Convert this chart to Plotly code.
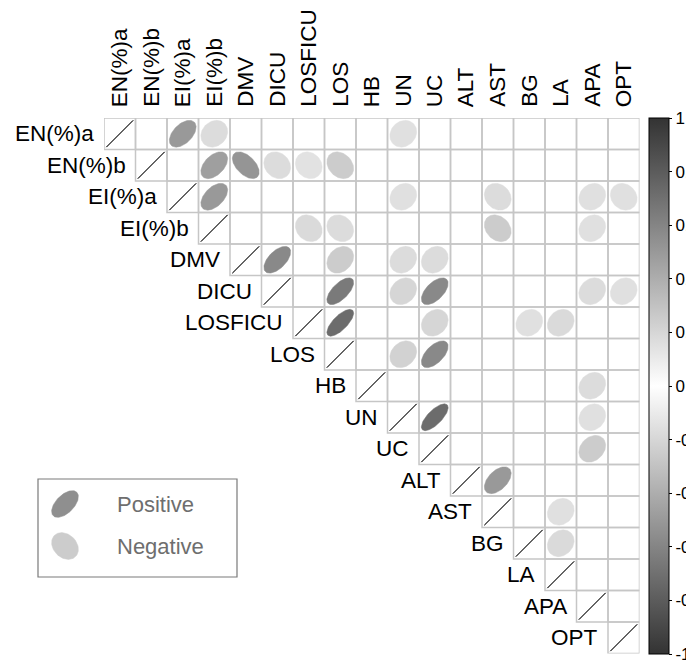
import numpy as np
import plotly.graph_objects as go

# ---------------- data ----------------
labels = ["EN(%)a", "EN(%)b", "EI(%)a", "EI(%)b", "DMV", "DICU", "LOSFICU", "LOS",
          "HB", "UN", "UC", "ALT", "AST", "BG", "LA", "APA", "OPT"]

# significant correlations in the upper triangle (row index, column index, r)
pair_row = [0, 0, 0,
            1, 1, 1, 1, 1,
            2, 2, 2, 2, 2,
            3, 3, 3, 3,
            4, 4, 4, 4,
            5, 5, 5, 5, 5,
            6, 6, 6, 6,
            7, 7,
            8,
            9, 9,
            10,
            11,
            12,
            13]
pair_col = [2, 3, 9,
            3, 4, 5, 6, 7,
            3, 9, 12, 15, 16,
            6, 7, 12, 15,
            5, 7, 9, 10,
            7, 9, 10, 15, 16,
            7, 10, 13, 14,
            9, 10,
            15,
            10, 15,
            15,
            12,
            14,
            14]
pair_r = [0.50, 0.17, 0.15,
          0.47, -0.52, -0.17, -0.14, -0.25,
          0.50, 0.15, -0.17, 0.15, -0.15,
          -0.18, -0.17, -0.25, 0.15,
          0.58, 0.25, 0.17, 0.17,
          0.65, 0.20, 0.58, 0.17, 0.15,
          0.72, 0.20, 0.15, 0.18,
          0.22, 0.58,
          0.17,
          0.72, 0.15,
          0.25,
          0.50,
          0.15,
          0.18]

colorbar_ticks = [1.0, 0.8, 0.6, 0.4, 0.2, 0.0, -0.2, -0.4, -0.6, -0.8, -1.0]
colorbar_ticktext = ["1", "0.8", "0.6", "0.4", "0.2", "0", "-0.2", "-0.4", "-0.6", "-0.8", "-1"]

legend_labels = ["Positive", "Negative"]
legend_r = [0.55, -0.25]

# ---------------- style / layout constants ----------------
W, H = 694, 661
OFF = 8            # page body margin: the figure is drawn 8 px in from the window corner
N = len(labels)
GRID_LEFT, GRID_TOP, CELL = 104 - OFF, 118 - OFF, 31.5
CBAR_LEFT = 649 - OFF
DARK = 51          # grey level at |r| = 1
ELL_SCALE = 0.85
FONT = "Liberation Sans, Arial, sans-serif"
GRID_COLOR = "#c6c6c6"

colorscale = [[0.0, f"rgb({DARK},{DARK},{DARK})"], [0.5, "rgb(255,255,255)"],
              [1.0, f"rgb({DARK},{DARK},{DARK})"]]


def fill_color(r):
    g = int(round(255 - (255 - DARK) * abs(r)))
    return f"rgb({g},{g},{g})"


def ellipse(r, npts=100):
    k = np.linspace(0, 2 * np.pi, npts)
    a = np.arccos(np.clip(r, -1, 1))
    ex = ELL_SCALE * np.cos(k + a / 2) / 2
    ey = ELL_SCALE * np.cos(k - a / 2) / 2
    return ex, ey


fig = go.Figure()

# grid cells of the upper triangle
shapes = []
for i in range(N):
    for j in range(i, N):
        shapes.append(dict(type="rect", xref="x", yref="y",
                           x0=j - 0.5, x1=j + 0.5, y0=i - 0.5, y1=i + 0.5,
                           line=dict(color=GRID_COLOR, width=1.5),
                           fillcolor="rgba(0,0,0,0)", layer="below"))

# diagonal (self correlation = 1)
for i in range(N):
    ex, ey = ellipse(1.0)
    fig.add_trace(go.Scatter(x=i + ex, y=i - ey, mode="lines",
                             line=dict(color=fill_color(1.0), width=1),
                             hoverinfo="skip", showlegend=False))

# ellipses
for i, j, r in zip(pair_row, pair_col, pair_r):
    ex, ey = ellipse(r)
    fig.add_trace(go.Scatter(x=j + ex, y=i - ey, mode="lines", fill="toself",
                             fillcolor=fill_color(r),
                             line=dict(color=fill_color(r), width=0.5),
                             hoverinfo="skip", showlegend=False))

# invisible markers carrying the colour bar
fig.add_trace(go.Scatter(x=pair_col, y=pair_row, mode="markers",
                         marker=dict(color=pair_r, coloraxis="coloraxis", size=1, opacity=0),
                         hoverinfo="skip", showlegend=False))

annotations = []
for i, lab in enumerate(labels):
    # row label left of the diagonal cell
    annotations.append(dict(x=i - 0.5, y=i, xref="x", yref="y", text=lab,
                            showarrow=False, xanchor="right", yanchor="middle",
                            xshift=-8, font=dict(family=FONT, size=22.5, color="black")))
    # column label on top
    annotations.append(dict(x=i, y=-0.5, xref="x", yref="y", text=lab,
                            showarrow=False, textangle=-90, xanchor="center",
                            yanchor="bottom", yshift=9,
                            font=dict(family=FONT, size=22.5, color="black")))

# legend box (pixel coordinates on a second, hidden axis pair)
LEG_X0, LEG_Y0, LEG_X1, LEG_Y1 = 38 - OFF, 479 - OFF, 237 - OFF, 577 - OFF
leg_centers_y = [504 - OFF, 546 - OFF]
leg_center_x = 65 - OFF
leg_text_x = 115 - OFF
ELL_PX = CELL
shapes.append(dict(type="rect", xref="x2", yref="y2", x0=LEG_X0, x1=LEG_X1,
                   y0=LEG_Y0, y1=LEG_Y1, line=dict(color="#7a7a7a", width=1.2),
                   fillcolor="rgba(0,0,0,0)"))
for lab, r, cy in zip(legend_labels, legend_r, leg_centers_y):
    ex, ey = ellipse(r)
    fig.add_trace(go.Scatter(x=leg_center_x + ex * ELL_PX, y=cy - ey * ELL_PX,
                             xaxis="x2", yaxis="y2", mode="lines", fill="toself",
                             fillcolor=fill_color(r), line=dict(color=fill_color(r), width=0.5),
                             hoverinfo="skip", showlegend=False))
    annotations.append(dict(x=leg_text_x, y=cy, xref="x2", yref="y2", text=lab, showarrow=False,
                            xanchor="left", yanchor="middle",
                            font=dict(family=FONT, size=22, color="#6e6e6e")))

fig.update_layout(
    width=W, height=H,
    margin=dict(l=0, r=0, t=0, b=0, pad=0, autoexpand=False),
    paper_bgcolor="white", plot_bgcolor="rgba(0,0,0,0)",
    xaxis=dict(domain=[GRID_LEFT / W, (GRID_LEFT + N * CELL) / W], range=[-0.5, N - 0.5],
               visible=False, fixedrange=True, anchor="y"),
    yaxis=dict(domain=[1 - (GRID_TOP + N * CELL) / H, 1 - GRID_TOP / H], range=[N - 0.5, -0.5],
               visible=False, fixedrange=True, anchor="x"),
    xaxis2=dict(domain=[0, 1], range=[0, W], visible=False, anchor="y2", fixedrange=True),
    yaxis2=dict(domain=[0, 1], range=[H, 0], visible=False, anchor="x2", fixedrange=True),
    coloraxis=dict(
        colorscale=colorscale, cmin=-1, cmax=1,
        colorbar=dict(x=CBAR_LEFT / W, xanchor="left", xpad=0,
                      y=1 - GRID_TOP / H, yanchor="top", ypad=0,
                      len=N * CELL, lenmode="pixels",
                      thickness=20, thicknessmode="pixels",
                      outlinecolor="black", outlinewidth=1,
                      ticks="outside", ticklen=3, tickcolor="black", tickwidth=1,
                      tickvals=colorbar_ticks, ticktext=colorbar_ticktext,
                      tickfont=dict(family=FONT, size=17, color="black")),
    ),
    shapes=shapes,
    annotations=annotations,
    showlegend=False,
)

fig.write_html("out.html")
